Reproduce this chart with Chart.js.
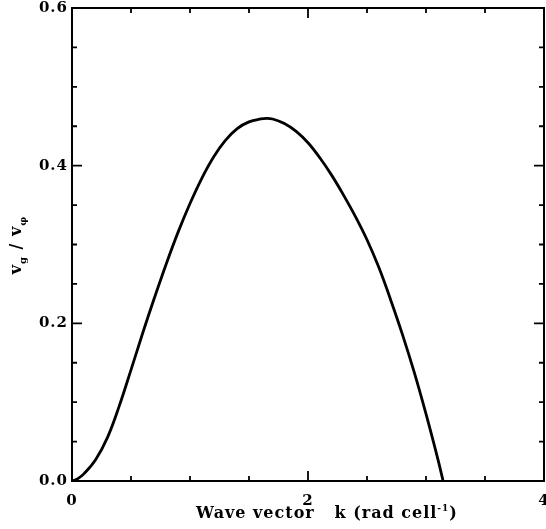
<!DOCTYPE html>
<html><head><meta charset="utf-8">
<title>v_g / v_phi vs wave vector</title>
<script src="https://cdn.jsdelivr.net/npm/chart.js@4.4.7/dist/chart.umd.min.js"></script>
<style>html,body{margin:0;padding:0;background:#fff}canvas{display:block}</style>
</head><body>
<canvas id="chart" width="546" height="529"></canvas>
<script>
// group / phase velocity ratio
var K_VALUES = [0, 0.05, 0.1, 0.2, 0.3, 0.4, 0.5, 0.6, 0.7, 0.8, 0.9, 1.0, 1.1, 1.2, 1.3, 1.4, 1.5, 1.6, 1.65,
  1.7, 1.8, 1.9, 2.0, 2.1, 2.2, 2.3, 2.4, 2.5, 2.6, 2.7, 2.8, 2.9, 3.0, 3.1, 3.145];
var RATIO = [0, 0.003, 0.009, 0.027, 0.055, 0.095, 0.141, 0.188, 0.233, 0.276, 0.316, 0.352, 0.384, 0.411, 0.432, 0.447, 0.4555, 0.4592, 0.46,
  0.4592, 0.4535, 0.4435, 0.429, 0.410, 0.388, 0.363, 0.336, 0.306, 0.271, 0.230, 0.186, 0.138, 0.085, 0.028, 0];

// axis ticks
var X_MAJOR = [0, 2, 4];
var X_MINOR = [0.5, 1, 1.5, 2.5, 3, 3.5];
var Y_MAJOR = [0.0, 0.2, 0.4, 0.6];
var Y_MINOR = [0.05, 0.1, 0.15, 0.25, 0.3, 0.35, 0.45, 0.5, 0.55];

var FONT = '"DejaVu Serif", "Liberation Serif", serif';

var points = K_VALUES.map(function(k, i) { return {x: k, y: RATIO[i]}; });

// box frame with inward ticks on all four sides, plus axis titles
var frameTicks = {
  id: 'frameTicks',
  beforeDraw: function(chart) { chart.ctx.letterSpacing = '1px'; },
  afterDraw: function(chart) {
    var ctx = chart.ctx, a = chart.chartArea, sx = chart.scales.x, sy = chart.scales.y;
    ctx.save();
    ctx.letterSpacing = '0px';
    ctx.strokeStyle = '#000';
    ctx.lineWidth = 2;
    ctx.strokeRect(a.left, a.top, a.right - a.left, a.bottom - a.top);
    ctx.lineWidth = 1.8;
    ctx.beginPath();
    function xt(vals, len) {
      vals.forEach(function(v) {
        var px = sx.getPixelForValue(v);
        ctx.moveTo(px, a.bottom); ctx.lineTo(px, a.bottom - len);
        ctx.moveTo(px, a.top); ctx.lineTo(px, a.top + len);
      });
    }
    function yt(vals, len) {
      vals.forEach(function(v) {
        var py = sy.getPixelForValue(v);
        ctx.moveTo(a.left, py); ctx.lineTo(a.left + len, py);
        ctx.moveTo(a.right, py); ctx.lineTo(a.right - len, py);
      });
    }
    xt(X_MAJOR, 10); xt(X_MINOR, 5);
    yt(Y_MAJOR, 10); yt(Y_MINOR, 5);
    ctx.stroke();

    // x title, with a raised -1
    ctx.fillStyle = '#000';
    ctx.textBaseline = 'alphabetic';
    ctx.letterSpacing = '1px';
    var main = 'Wave vector   k (rad cell', sup = '-1', tail = ')';
    var fMain = 'bold 16px ' + FONT, fSup = 'bold 9px ' + FONT;
    ctx.font = fMain; var w1 = ctx.measureText(main).width, w3 = ctx.measureText(tail).width;
    ctx.font = fSup; var w2 = ctx.measureText(sup).width;
    var x0 = 327 - (w1 + w2 + w3) / 2, base = 518;
    ctx.textAlign = 'left';
    ctx.font = fMain; ctx.fillText(main, x0, base);
    ctx.font = fSup; ctx.fillText(sup, x0 + w1, base - 7);
    ctx.font = fMain; ctx.fillText(tail, x0 + w1 + w2, base);

    // y title: v_g / v_phi, rotated
    ctx.save();
    ctx.translate(21, 245);
    ctx.rotate(-Math.PI / 2);
    ctx.letterSpacing = '1px';
    var parts = [['v', 0, 16], ['g', 5, 10], [' / ', 0, 16], ['v', 0, 16], ['\u03c6', 5, 10]];
    var total = 0;
    parts.forEach(function(p) { ctx.font = 'bold ' + p[2] + 'px ' + FONT; p.push(ctx.measureText(p[0]).width); total += p[3]; });
    var cx = -total / 2;
    parts.forEach(function(p) {
      ctx.font = 'bold ' + p[2] + 'px ' + FONT;
      ctx.fillText(p[0], cx, p[1]);
      cx += p[3];
    });
    ctx.restore();
    ctx.restore();
    ctx.letterSpacing = '0px';
  }
};

var ctx = document.getElementById('chart').getContext('2d');
new Chart(ctx, {
  type: 'line',
  data: {datasets: [{
    data: points, borderColor: '#000', borderWidth: 2.8, pointRadius: 0,
    tension: 0.4, fill: false
  }]},
  options: {
    responsive: false, animation: false, events: [],
    layout: {padding: {top: 8, right: 2, left: 0, bottom: 0}},
    plugins: {legend: {display: false}, tooltip: {enabled: false}},
    scales: {
      x: {
        type: 'linear', min: 0, max: 4,
        grid: {display: false, drawTicks: false}, border: {display: false},
        afterBuildTicks: function(s) { s.ticks = X_MAJOR.map(function(v) { return {value: v}; }); },
        ticks: {color: '#000', font: {family: FONT, size: 15, weight: 'bold'}, padding: 11, maxRotation: 0,
          callback: function(v) { return String(v); }},
        afterFit: function(s) { s.height = 48; s.paddingLeft = 0; s.paddingRight = 0; }
      },
      y: {
        min: 0, max: 0.6,
        grid: {display: false, drawTicks: false}, border: {display: false},
        afterBuildTicks: function(s) { s.ticks = Y_MAJOR.map(function(v) { return {value: v}; }); },
        ticks: {color: '#000', font: {family: FONT, size: 15, weight: 'bold'}, padding: 4,
          callback: function(v) { return v.toFixed(1); }},
        afterFit: function(s) { s.width = 72; s.paddingTop = 0; s.paddingBottom = 0; }
      }
    }
  },
  plugins: [frameTicks]
});
</script></body></html>
